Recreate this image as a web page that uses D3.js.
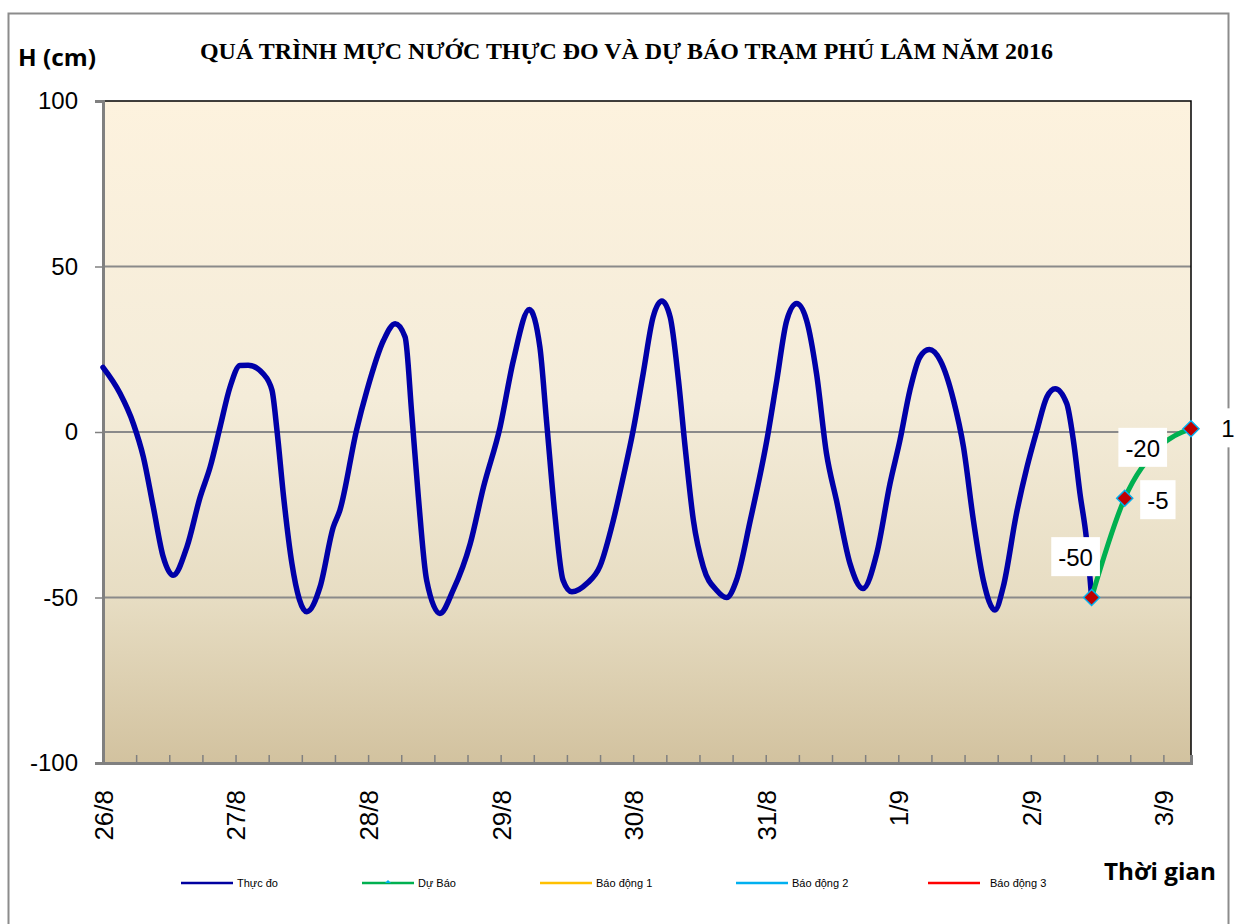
<!DOCTYPE html>
<html>
<head>
<meta charset="utf-8">
<script src="https://cdn.jsdelivr.net/npm/d3@7"></script>
<style>
  body { margin: 0; background: #fff; }
  svg { display: block; }
</style>
</head>
<body>
<div id="chart"></div>
<script>
// --- data (hours counted from 26/8 00:00) ---
var obsHours = [0, 3.1, 5.5, 7.3, 9.1, 10.9, 12.7, 15.2, 17.6, 19.4,
  21.2, 23.0, 24.8, 26.3, 29.0, 30.6, 31.5, 32.7, 34.2, 36.9,
  39.3, 41.7, 42.9, 45.9, 47.8, 50.8, 52.9, 54.7, 55.9, 57.1,
  58.6, 61.0, 63.4, 66.5, 68.9, 71.9, 74.3, 77.2, 79.1, 80.3,
  81.8, 83.3, 84.9, 87.6, 90.0, 92.4, 94.2, 96.0, 97.8, 99.6,
  101.2, 102.7, 104.2, 105.4, 106.9, 108.7, 111.1, 112.9, 114.7, 117.2,
  120.2, 122.0, 123.8, 125.6, 127.4, 129.2, 131.0, 132.8, 135.3, 137.6,
  140.1, 142.5, 144.3, 146.1, 147.9, 149.6, 151.6, 154.0, 155.8, 157.6,
  159.4, 161.5, 163.0, 165.4, 167.3, 169.1, 170.9, 172.4, 174.5, 175.7,
  176.9, 178.1, 179];
var obsValues = [19.5, 11.6, 2.5, -7.5, -22.6, -37.7, -43.3, -34.7, -19.6, -10.6,
  1.5, 13.6, 20.1, 20.2, 17.6, 12.6, 0.5, -19.6, -39.7, -54.3,
  -46.8, -28.7, -23.6, 0.5, 12.6, 27.7, 32.7, 28.7, 5.6, -19.6,
  -44.8, -54.8, -47.8, -33.7, -16.6, 1.5, 21.6, 37.0, 25.7, 3.5,
  -24.6, -44.8, -48.3, -45.8, -40.5, -26.7, -13.6, 0.5, 17.6, 34.7,
  39.6, 34.7, 15.6, -4.5, -26.7, -40.8, -47.8, -50, -44.8, -26.7,
  -2.5, 15.6, 33.7, 38.8, 33.7, 17.6, -6.5, -20.6, -40.0, -47.3,
  -36.7, -15.6, -2.5, 12.6, 22.6, 24.9, 21.6, 9.6, -4.5, -26.7,
  -44.8, -53.8, -46.8, -24.6, -10.6, 0.5, 10.6, 13.1, 8.6, -2.5,
  -18.6, -32.7, -50];

var fcHours = [179, 185, 191, 197];
var fcValues = [-50, -20, -5, 1];

var dayHours = [0, 24, 48, 72, 96, 120, 144, 168, 192];
var dayLabels = ["26/8", "27/8", "28/8", "29/8", "30/8", "31/8", "1/9", "2/9", "3/9"];
var yTicks = [-100, -50, 0, 50, 100];

var legendNames = ["Thực đo", "Dự Báo", "Báo động 1", "Báo động 2", "Báo động 3"];
var legendColors = ["#0000a0", "#00b050", "#ffc000", "#00b0f0", "#ff0000"];

// --- layout ---
var W = 1237, H = 924;
var plot = {left: 103, right: 1191, top: 101, bottom: 763};

var svg = d3.select("#chart").append("svg")
  .attr("width", W).attr("height", H);

svg.append("rect").attr("width", W).attr("height", H).attr("fill", "#fff");
// outer chart frame
svg.append("rect")
  .attr("x", 8.5).attr("y", 13.5).attr("width", 1220).attr("height", 940)
  .attr("fill", "none").attr("stroke", "#8c8c8c").attr("stroke-width", 2);

var x = d3.scaleLinear().domain([0, 197]).range([plot.left, plot.right]);
var y = d3.scaleLinear().domain([-100, 100]).range([plot.bottom, plot.top]);

// background gradient
var defs = svg.append("defs");
var grad = defs.append("linearGradient").attr("id", "bg")
  .attr("x1", 0).attr("y1", 0).attr("x2", 0).attr("y2", 1);
grad.append("stop").attr("offset", "0%").attr("stop-color", "#fdf2de");
grad.append("stop").attr("offset", "45%").attr("stop-color", "#f4ecd9");
grad.append("stop").attr("offset", "75%").attr("stop-color", "#e7ddc3");
grad.append("stop").attr("offset", "100%").attr("stop-color", "#d2c29f");

svg.append("rect")
  .attr("x", plot.left).attr("y", plot.top)
  .attr("width", plot.right - plot.left).attr("height", plot.bottom - plot.top)
  .attr("fill", "url(#bg)");

// gridlines
svg.append("g").selectAll("line")
  .data([-50, 0, 50]).enter().append("line")
  .attr("x1", plot.left).attr("x2", plot.right)
  .attr("y1", d => y(d)).attr("y2", d => y(d))
  .attr("stroke", "#8a8a8a").attr("stroke-width", 2);

// top + right border of plot area
svg.append("path")
  .attr("d", `M${plot.left},${plot.top}H${plot.right}V${plot.bottom}`)
  .attr("fill", "none").attr("stroke", "#000").attr("stroke-width", 1.5);

// y axis (plain hyphen for negatives, like the original)
var yAxis = d3.axisLeft(y).tickValues(yTicks).tickSize(8).tickPadding(17)
  .tickFormat(d => String(d));
var gy = svg.append("g").attr("transform", `translate(${plot.left},0)`).call(yAxis);
gy.select(".domain").attr("stroke", "#808080").attr("stroke-width", 3);
gy.selectAll(".tick line").attr("stroke", "#808080").attr("stroke-width", 1.5);
gy.selectAll(".tick text")
  .style("font-family", "Liberation Sans, Arial, sans-serif")
  .style("font-size", "24px").attr("fill", "#000");

// x axis: minor tick marks every 6 hours, pointing into the plot
var sixHours = d3.range(0, 198, 6);
var xAxis = d3.axisBottom(x).tickValues(sixHours).tickSize(-8).tickFormat("");
var gx = svg.append("g").attr("transform", `translate(0,${plot.bottom})`).call(xAxis);
gx.select(".domain").attr("stroke", "#808080").attr("stroke-width", 3);
gx.selectAll(".tick line").attr("stroke", "#808080").attr("stroke-width", 1.5);

// day labels, rotated
var xLab = d3.axisBottom(x).tickValues(dayHours).tickSize(0)
  .tickFormat((d, i) => dayLabels[i]);
var gl = svg.append("g").attr("transform", `translate(0,${plot.bottom})`).call(xLab);
gl.select(".domain").remove();
gl.selectAll(".tick text")
  .attr("transform", "rotate(-90)")
  .attr("x", -27).attr("y", 0).attr("dy", "0.36em")
  .style("text-anchor", "end")
  .style("font-family", "Liberation Sans, Arial, sans-serif")
  .style("font-size", "26px").attr("fill", "#000");

// observed line
var obs = obsHours.map((h, i) => [h, obsValues[i]]);
var line = d3.line().x(d => x(d[0])).y(d => y(d[1])).curve(d3.curveMonotoneX);
svg.append("path").datum(obs)
  .attr("d", line)
  .attr("fill", "none").attr("stroke", "#0000a8").attr("stroke-width", 5.5)
  .attr("stroke-linejoin", "round").attr("stroke-linecap", "round");

// forecast line
var fc = fcHours.map((h, i) => [h, fcValues[i]]);
svg.append("path").datum(fc)
  .attr("d", line)
  .attr("fill", "none").attr("stroke", "#00b050").attr("stroke-width", 5)
  .attr("stroke-linecap", "round");

svg.append("g").selectAll("path")
  .data(fc).enter().append("path")
  .attr("transform", d => `translate(${x(d[0])},${y(d[1])})`)
  .attr("d", "M0,-8L8,0L0,8L-8,0Z")
  .attr("fill", "#c00000").attr("stroke", "#00b0f0").attr("stroke-width", 1.5);

// data labels (moved by hand in the original)
var labelOffsets = [[-16, -40], [18, -50], [0, 52], [37, 0]];
var lab = svg.append("g").selectAll("g")
  .data(fc).enter().append("g")
  .attr("transform", (d, i) => `translate(${x(d[0]) + labelOffsets[i][0]},${y(d[1]) + labelOffsets[i][1]})`);
lab.append("rect").attr("fill", "#fff");
lab.append("text")
  .attr("text-anchor", "middle").attr("dy", "0.36em")
  .style("font-family", "Liberation Sans, Arial, sans-serif")
  .style("font-size", "24px")
  .text(d => d[1]);
lab.each(function() {
  var g = d3.select(this);
  var b = g.select("text").node().getBBox();
  g.select("rect")
    .attr("x", b.x - 7).attr("y", b.y - 7)
    .attr("width", b.width + 14).attr("height", b.height + 12);
});

// titles
svg.append("text")
  .attr("x", 200).attr("y", 59)
  .attr("textLength", 853).attr("lengthAdjust", "spacingAndGlyphs")
  .style("font-family", "Liberation Serif, 'Times New Roman', serif")
  .style("font-weight", "bold").style("font-size", "23px")
  .text("QUÁ TRÌNH MỰC NƯỚC THỰC ĐO VÀ DỰ BÁO TRẠM PHÚ LÂM NĂM 2016");

svg.append("text")
  .attr("x", 18).attr("y", 66)
  .style("font-family", "'Open Sans', 'Noto Sans', sans-serif")
  .style("font-weight", "bold").style("font-size", "23px")
  .attr("textLength", 78).attr("lengthAdjust", "spacingAndGlyphs")
  .text("H (cm)");

svg.append("text")
  .attr("x", 1104).attr("y", 880)
  .style("font-family", "'Open Sans', 'Noto Sans', sans-serif")
  .style("font-weight", "bold").style("font-size", "24px")
  .attr("textLength", 112).attr("lengthAdjust", "spacingAndGlyphs")
  .text("Thời gian");

// legend
var legendX = [181, 362, 540, 736, 928];
var lg = svg.append("g").selectAll("g")
  .data(legendNames).enter().append("g")
  .attr("transform", (d, i) => `translate(${legendX[i]},883)`);
lg.append("line")
  .attr("x1", 0).attr("x2", 52).attr("y1", 0).attr("y2", 0)
  .attr("stroke", (d, i) => legendColors[i]).attr("stroke-width", 2.5);
lg.filter((d, i) => i === 1).append("path")
  .attr("d", "M26,-3L29,0L23,0Z").attr("fill", "#00b0f0");
lg.append("text")
  .attr("x", (d, i) => i === 4 ? 62 : 56).attr("y", 0).attr("dy", "0.35em")
  .attr("transform", "scale(1,1)")
  .style("font-family", "'Liberation Sans Narrow', 'Liberation Sans', Arial, sans-serif")
  .style("font-size", "11px")
  .text(d => d);
</script>
</body>
</html>
